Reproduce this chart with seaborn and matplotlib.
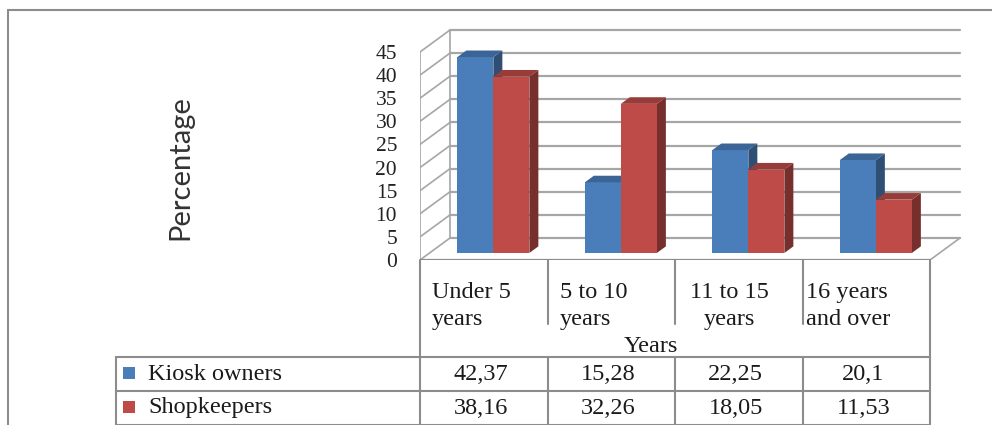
import numpy as np
import pandas as pd
import matplotlib
matplotlib.use("Agg")
import matplotlib.pyplot as plt
from matplotlib.lines import Line2D
from matplotlib.patches import Polygon, Rectangle
import matplotlib.colors as mcolors
import seaborn as sns

# ---------------- data ----------------
categories = ["Under 5\nyears", "5 to 10\nyears", "11 to 15\nyears", "16 years\nand over"]
series = ["Kiosk owners", "Shopkeepers"]
kiosk_owners = [42.37, 15.28, 22.25, 20.1]
shopkeepers = [38.16, 32.26, 18.05, 11.53]
y_ticks = [0, 5, 10, 15, 20, 25, 30, 35, 40, 45]
x_title = "Years"
y_title = "Percentage"

colors = ["#4A7EBB", "#BE4B48"]

df = pd.DataFrame({
    "cat": categories * 2,
    "series": [series[0]] * 4 + [series[1]] * 4,
    "val": kiosk_owners + shopkeepers,
})

# ---------------- figure ----------------
sns.set_style("white")
plt.rcParams["font.family"] = ["Liberation Serif", "DejaVu Serif"]
W, H = 992, 425
fig = plt.figure(figsize=(W / 100, H / 100), dpi=100)
fig.patch.set_facecolor("white")

def fx(x):
    return x / W

def fy(y):
    return 1 - y / H

# axes geometry (pixel layout)
X0, X1 = 420, 963          # front-left floor corner .. back-right end
Y0, YT = 260, 28           # front zero line .. top of back wall
PX_PER_CAT = 127.5
PX_PER_UNIT = 208 / 45
DX = 30 / PX_PER_CAT       # full floor depth in data units
DY = 22 / PX_PER_UNIT
ax = fig.add_axes([fx(X0), fy(Y0), (X1 - X0) / W, (Y0 - YT) / H])

sns.barplot(data=df, x="cat", y="val", hue="series", palette=colors,
            width=0.565, saturation=1, legend=False, ax=ax, zorder=3)

ax.set_xlim(-0.5, -0.5 + (X1 - X0) / PX_PER_CAT)
ax.set_ylim(0, (Y0 - YT) / PX_PER_UNIT)
for s in ax.spines.values():
    s.set_visible(False)
ax.set_xticks([])
ax.set_xlabel("")
ax.set_ylabel("")
ax.set_yticks(y_ticks)
ax.set_yticklabels([str(t) for t in y_ticks])
ax.tick_params(axis="y", length=0, pad=16.5, labelsize=15.5, labelcolor="#222222")
ax.patch.set_alpha(0)

grid_c = "#A6A6A6"
n = len(categories)
xl, xr = -0.5, n - 0.5
# back wall gridlines, left wall slants, walls edges
for t in y_ticks:
    ax.plot([xl + DX, xr + DX], [t + DY, t + DY], color=grid_c, lw=1.6, zorder=1)
    ax.plot([xl, xl + DX], [t, t + DY], color=grid_c, lw=1.2, zorder=1)
ax.plot([xl, xl], [0, y_ticks[-1]], color=grid_c, lw=1.2, zorder=1)
ax.plot([xl + DX, xl + DX], [DY, y_ticks[-1] + DY], color=grid_c, lw=1.2, zorder=1)
# floor
ax.plot([xl, xr], [0, 0], color="#8C8C8C", lw=1.6, zorder=2)
ax.plot([xr, xr + DX], [0, DY], color=grid_c, lw=1.2, zorder=1)

# 3D faces for bars
F0, FB = 0.32, 0.30
bars = sorted(ax.patches, key=lambda p: p.get_x())
for rank, p in enumerate(bars):
    x, w, h = p.get_x(), p.get_width(), p.get_height()
    x += F0 * DX
    y0 = F0 * DY
    p.set_xy((x, y0))
    p.set_linewidth(0)
    p.set_zorder(10 + rank * 3)
    base = np.array(mcolors.to_rgb(p.get_facecolor()))
    side = base * 0.62
    top = base * 0.80
    ddx, ddy = FB * DX, FB * DY
    ax.add_patch(Polygon([(x + w, y0), (x + w + ddx, y0 + ddy),
                          (x + w + ddx, y0 + h + ddy), (x + w, y0 + h)],
                         closed=True, facecolor=side, edgecolor="none",
                         zorder=10 + rank * 3 - 1))
    ax.add_patch(Polygon([(x, y0 + h), (x + ddx, y0 + h + ddy),
                          (x + w + ddx, y0 + h + ddy), (x + w, y0 + h)],
                         closed=True, facecolor=top, edgecolor="none",
                         zorder=10 + rank * 3 + 1))

# ---------------- table ----------------
tc = "#8C8C8C"

def hline(y, x1, x2, c=tc, lw=1.5):
    fig.add_artist(Line2D([fx(x1), fx(x2)], [fy(y), fy(y)], color=c, lw=lw,
                          transform=fig.transFigure))

def vline(x, y1, y2, c=tc, lw=1.5):
    fig.add_artist(Line2D([fx(x), fx(x)], [fy(y1), fy(y2)], color=c, lw=lw,
                          transform=fig.transFigure))

TL, CL, CR = 116, 420, 930
R1, R2, R3 = 357, 391, 425
col_edges = [CL + i * PX_PER_CAT for i in range(n + 1)]
vline(CL, Y0, R3)
vline(CR, Y0, R3)
for xe in col_edges[1:-1]:
    vline(xe, Y0, 324)
    vline(xe, R1, R3)
hline(R1, TL, CR)
hline(R2, TL, CR)
hline(R3 - 0.5, TL, CR)
vline(TL, R1, R3)

txt_c = "#1a1a1a"
FS = 17.5
head_offsets = [12, 12, 15, 3]
aligns = ["left", "left", "center", "left"]
for i, cat in enumerate(categories):
    fig.text(fx(col_edges[i] + head_offsets[i]), fy(306), cat, ha="left",
             va="center", fontsize=FS, multialignment=aligns[i], color=txt_c,
             linespacing=1.32)
fig.text(fx(651), fy(347), x_title, ha="center", va="center", fontsize=FS,
         color=txt_c)

rows = [kiosk_owners, shopkeepers]
row_centers = [(R1 + R2) / 2, (R2 + R3) / 2]
for r, (name, vals) in enumerate(zip(series, rows)):
    yc = row_centers[r]
    fig.add_artist(Rectangle((fx(123), fy(yc + 5)), 12 / W, 12 / H,
                             transform=fig.transFigure, facecolor=colors[r],
                             edgecolor="none"))
    fig.text(fx(148), fy(yc), name, ha="left", va="center", fontsize=FS,
             color=txt_c)
    for i, v in enumerate(vals):
        cx = (col_edges[i] + col_edges[i + 1]) / 2
        fig.text(fx(cx - 3), fy(yc), f"{v:g}".replace(".", ","), ha="center",
                 va="center", fontsize=FS, color=txt_c)

# y title
fig.text(fx(180), fy(168), y_title, rotation=90, ha="center", va="center",
         fontsize=21, family=["Lato", "DejaVu Sans"], color="#333333")

# outer chart border
hline(10, 8, W, c="#8C8C8C", lw=1.5)
vline(8, 10, H, c="#8C8C8C", lw=1.5)

fig.savefig("out.png", dpi=100, facecolor="white")
